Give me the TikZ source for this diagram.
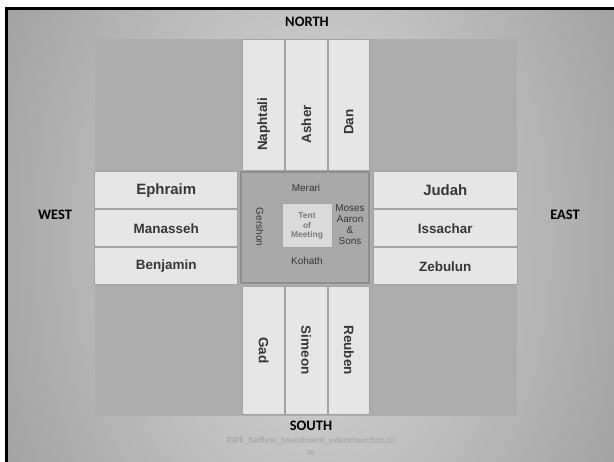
\documentclass[tikz,border=0pt]{standalone}
\usepackage{fontspec}
\setmainfont{Liberation Sans}
\newfontfamily\calibri{Carlito}
\usetikzlibrary{positioning}
\definecolor{bginner}{HTML}{DCDCDC}
\definecolor{bgouter}{HTML}{989898}
\definecolor{panelgray}{HTML}{ADADAD}
\definecolor{boxfill}{HTML}{E6E6E6}
\definecolor{boxline}{HTML}{A2A2A2}
\definecolor{campfill}{HTML}{A9A9A9}
\definecolor{campline}{HTML}{8E8E8E}
\definecolor{tentfill}{HTML}{DADADA}
\definecolor{tenttext}{HTML}{7A7A7A}
\definecolor{tribetext}{HTML}{363636}
\definecolor{marktext}{HTML}{A0A0A0}

\begin{document}
\begin{tikzpicture}[
    x=1bp, y=-1bp,
    rowbox/.style={draw=boxline, fill=boxfill, line width=1bp, minimum width=#1, minimum height=37bp, inner sep=0pt, text=tribetext, font=\bfseries\fontsize{13.5}{15}\selectfont},
    rowbox/.default=143bp,
    colbox/.style={draw=boxline, fill=boxfill, line width=1bp, minimum width=41.67bp, minimum height=#1, inner sep=0pt},
    colbox/.default=131bp,
    coltext/.style={text=tribetext, inner sep=0pt, font=\bfseries\fontsize{13.5}{15}\selectfont},
    campbox/.style={draw=campline, fill=campfill, line width=1.5bp, minimum width=128bp, minimum height=111bp, inner sep=0pt},
    tentbox/.style={draw=boxline, fill=tentfill, line width=1bp, minimum width=50bp, minimum height=44bp, inner sep=0pt, align=center, text=tenttext, font=\bfseries\fontsize{8.5}{10}\selectfont},
    levite/.style={text=tribetext, inner sep=0pt, align=center, font=\fontsize{10}{11}\selectfont},
    dirtext/.style={inner sep=0pt, font=\calibri\bfseries\fontsize{14.5}{17}\selectfont},
    credit/.style={inner sep=0pt, align=center, text=marktext, font=\calibri\fontsize{9.5}{12}\selectfont}
  ]
    % slide frame and background
    \useasboundingbox[fill=white] (0,0) rectangle (614,462);
    \begin{scope}
      \clip (8,10) rectangle (614,462);
      \shade[inner color=bginner, outer color=bgouter] (-89,-364) rectangle (711,836);
    \end{scope}
    \draw[black, line width=3bp] (6.5,462) -- (6.5,8.5) -- (614,8.5);
    \fill[panelgray] (95,39) rectangle (517,416);

    % tabernacle and levites
    \node[campbox] (camp) at (305,227.5) {};
    \node[tentbox] (tent) at (307,226) {Tent\\of\\Meeting};
    \node[levite] (merari) at (306,188) {Merari};
    \node[levite] (kohath) at (307,261) {Kohath};
    \node[levite, rotate=-90] (gershon) at (260,227) {Gershon};
    \node[levite] (moses) at (350,225) {Moses\\Aaron\\\&\\Sons};

    % west camp
    \node[rowbox, anchor=north east, font=\bfseries\fontsize{15}{17}\selectfont] (ephraim) at ([xshift=-2bp]camp.north west) {Ephraim};
    \node[rowbox, below=0pt of ephraim] (manasseh) {Manasseh};
    \node[rowbox, below=0pt of manasseh] (benjamin) {Benjamin};

    % east camp
    \node[rowbox=144bp, anchor=north west, font=\bfseries\fontsize{15}{17}\selectfont] (judah) at ([xshift=3bp]camp.north east) {Judah};
    \node[rowbox=144bp, below=0pt of judah] (issachar) {Issachar};
    \node[rowbox=144bp, below=0pt of issachar] (zebulun) {Zebulun};

    % north camp
    \node[colbox, anchor=south west] (naphtali) at ([xshift=2bp]camp.north west) {};
    \node[colbox, right=0pt of naphtali] (asher) {};
    \node[colbox, right=0pt of asher] (dan) {};
    \node[coltext, rotate=90] (naphtalilbl) at ([yshift=-19bp]naphtali.center) {Naphtali};
    \node[coltext, rotate=90] (asherlbl) at ([yshift=-19bp]asher.center) {Asher};
    \node[coltext, rotate=90] (danlbl) at ([yshift=-17bp]dan.center) {Dan};

    % south camp
    \node[colbox=128bp, anchor=north west] (gad) at ([xshift=2bp, yshift=-2bp]camp.south west) {};
    \node[colbox=128bp, right=0pt of gad] (simeon) {};
    \node[colbox=128bp, right=0pt of simeon] (reuben) {};
    \node[coltext, rotate=-90] (gadlbl) at (gad.center) {Gad};
    \node[coltext, rotate=-90] (simeonlbl) at (simeon.center) {Simeon};
    \node[coltext, rotate=-90] (reubenlbl) at (reuben.center) {Reuben};

    % compass points
    \node[dirtext] (north) at (307,22) {NORTH};
    \node[dirtext] (west) at (55,215) {WEST};
    \node[dirtext] (east) at (565,215) {EAST};
    \node[dirtext] (south) at (311,426) {SOUTH};
    \node[credit] (source) at (311,446) {RIPE\_Selfless\_Investment\_edenchurchnz.co\\m};
  \end{tikzpicture}
\end{document}
